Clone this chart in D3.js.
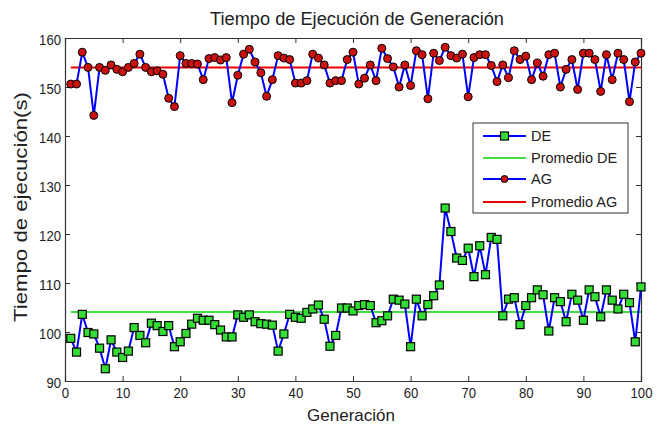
<!DOCTYPE html>
<html><head><meta charset="utf-8">
<script src="https://cdn.jsdelivr.net/npm/d3@7"></script>
<style>body{margin:0;background:#fff}svg{display:block}text{font-family:"Liberation Sans",Arial,sans-serif}</style>
</head><body>
<script>
const generations = d3.range(1, 101);
const deValues = [98.7,95.9,103.6,99.9,99.6,96.7,92.5,98.4,95.9,94.8,96.1,100.9,99.3,97.8,101.8,101.3,100.1,101.3,97.0,98.0,99.7,101.6,102.8,102.4,102.4,101.5,100.4,99.0,99.0,103.5,103.0,103.5,102.1,101.7,101.6,101.4,96.1,99.6,103.6,103.0,102.8,104.0,104.7,105.5,102.6,97.1,99.3,104.9,104.9,104.3,105.4,105.6,105.4,101.9,102.3,103.3,106.7,106.5,105.7,97.0,106.7,103.3,105.6,107.4,109.6,125.3,120.5,115.1,114.6,117.1,111.3,117.6,111.7,119.3,118.9,103.3,106.7,107.0,101.5,105.4,107.0,108.6,107.6,100.2,107.0,106.2,102.1,107.7,106.5,102.4,108.6,107.2,103.1,108.6,106.5,104.7,107.7,106.0,98.0,109.2];
const agValues = [150.6,150.6,157.1,154.0,144.2,154.0,153.4,154.5,153.6,153.1,154.0,154.8,156.7,154.0,153.1,153.3,152.6,147.7,146.0,156.4,154.8,154.8,154.7,151.5,155.8,156.0,155.5,156.0,146.8,152.4,156.7,157.7,155.1,152.9,148.1,151.5,156.4,155.9,155.6,150.8,150.8,151.3,156.7,155.9,154.5,150.8,151.3,151.3,155.6,157.1,150.6,151.8,154.5,151.3,157.9,155.8,154.1,150.0,154.5,150.3,157.4,156.6,147.6,156.9,155.4,158.1,156.4,155.9,156.7,148.0,156.0,156.6,156.6,154.4,151.1,154.5,151.9,157.4,155.6,156.3,151.5,154.9,152.2,156.6,156.9,150.0,153.6,155.6,149.5,156.9,156.9,155.6,149.1,156.6,151.5,156.9,155.6,147.0,155.1,156.9];
const deMean = 104.1;
const agMean = 154.0;
const xTicks = [0,10,20,30,40,50,60,70,80,90,100];
const yTicks = [90,100,110,120,130,140,150,160];
const legendLabels = ["DE","Promedio DE","AG","Promedio AG"];

const W = 660, H = 426;
const m = {left:65, right:19, top:38, bottom:45};
const svg = d3.select("body").append("svg").attr("width",W).attr("height",H);
const x = d3.scaleLinear().domain([0,100]).range([m.left, W-m.right]);
const y = d3.scaleLinear().domain([90,160]).range([H-m.bottom, m.top]);

const blue = "#0000ff", green = "#33dd33", greenLine = "#44dd44", red = "#ee0000", dark = "#cc1111";
const txt = "#222";
const digitW = 7.3;

// axes (inward ticks, box)
const tl = 5;
svg.append("g").attr("transform",`translate(0,${H-m.bottom})`)
  .call(d3.axisBottom(x).tickValues(xTicks).tickSize(-tl).tickPadding(6))
  .call(g=>g.selectAll("text").attr("font-size",15).attr("fill",txt).attr("dy","0.72em")
     .attr("textLength",d=>String(d).length*digitW).attr("lengthAdjust","spacingAndGlyphs"));
svg.append("g").attr("transform",`translate(0,${m.top})`)
  .call(d3.axisTop(x).tickValues(xTicks).tickSize(-tl).tickFormat(""));
svg.append("g").attr("transform",`translate(${m.left},0)`)
  .call(d3.axisLeft(y).tickValues(yTicks).tickSize(-tl).tickPadding(4))
  .call(g=>g.selectAll("text").attr("font-size",15).attr("fill",txt).attr("dy","0.4em")
     .attr("textLength",d=>String(d).length*digitW).attr("lengthAdjust","spacingAndGlyphs"));
svg.append("g").attr("transform",`translate(${W-m.right},0)`)
  .call(d3.axisRight(y).tickValues(yTicks).tickSize(-tl).tickFormat(""));
svg.selectAll(".domain").attr("stroke","#333").attr("stroke-width",1.2);
svg.selectAll(".tick line").attr("stroke","#333");

// mean lines
svg.append("line").attr("x1",x(1)).attr("x2",x(100)).attr("y1",y(deMean)).attr("y2",y(deMean))
  .attr("stroke",greenLine).attr("stroke-width",2);
svg.append("line").attr("x1",x(1)).attr("x2",x(100)).attr("y1",y(agMean)).attr("y2",y(agMean))
  .attr("stroke",red).attr("stroke-width",2);

const line = d3.line().x((d,i)=>x(generations[i])).y(d=>y(d));
svg.append("path").datum(deValues).attr("d",line).attr("fill","none").attr("stroke",blue).attr("stroke-width",2);
svg.append("path").datum(agValues).attr("d",line).attr("fill","none").attr("stroke",blue).attr("stroke-width",2);

const s = 8;
svg.append("g").selectAll("rect").data(deValues).join("rect")
  .attr("x",(d,i)=>x(generations[i])-s/2).attr("y",d=>y(d)-s/2).attr("width",s).attr("height",s)
  .attr("fill",green).attr("stroke","#000").attr("stroke-width",1.2);
svg.append("g").selectAll("circle").data(agValues).join("circle")
  .attr("cx",(d,i)=>x(generations[i])).attr("cy",d=>y(d)).attr("r",4)
  .attr("fill",dark).attr("stroke","#000").attr("stroke-width",1);

// titles
svg.append("text").attr("x",357).attr("y",25).attr("text-anchor","middle")
  .attr("font-size",18).attr("fill",txt).attr("textLength",294).attr("lengthAdjust","spacingAndGlyphs")
  .text("Tiempo de Ejecución de Generación");
svg.append("text").attr("x",351).attr("y",421).attr("text-anchor","middle")
  .attr("font-size",17).attr("fill",txt).attr("textLength",88).attr("lengthAdjust","spacingAndGlyphs")
  .text("Generación");
svg.append("text").attr("transform",`translate(27,207) rotate(-90)`).attr("text-anchor","middle")
  .attr("font-size",17.5).attr("fill",txt).attr("textLength",230).attr("lengthAdjust","spacingAndGlyphs")
  .text("Tiempo de ejecución(s)");

// legend
const lg = svg.append("g").attr("transform","translate(473,123)");
lg.append("rect").attr("width",155).attr("height",90).attr("fill","#fff").attr("stroke","#333").attr("stroke-width",1);
const rows = [13,35,56,79];
legendLabels.forEach((lab,k)=>{
  const yy = rows[k];
  const col = k===0||k===2 ? blue : (k===1 ? greenLine : red);
  lg.append("line").attr("x1",10).attr("x2",53).attr("y1",yy).attr("y2",yy).attr("stroke",col).attr("stroke-width",2);
  if(k===0) lg.append("rect").attr("x",31.5-4).attr("y",yy-4).attr("width",8).attr("height",8).attr("fill",green).attr("stroke","#000").attr("stroke-width",1.2);
  if(k===2) lg.append("circle").attr("cx",31.5).attr("cy",yy).attr("r",3.5).attr("fill",dark).attr("stroke","#000");
  lg.append("text").attr("x",58).attr("y",yy+5).attr("font-size",14.5).attr("fill",txt).text(lab);
});
</script>
</body></html>
